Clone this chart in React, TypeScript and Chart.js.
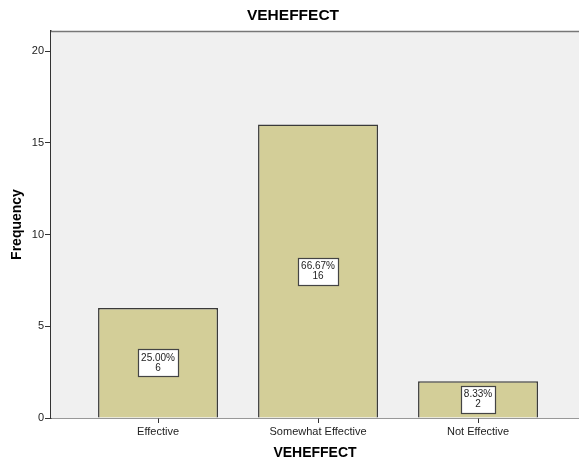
import React, { useEffect, useRef } from "react";
import { Chart, registerables } from "chart.js";

Chart.register(...registerables);

const categories = ["Effective", "Somewhat Effective", "Not Effective"];
const counts = [6, 16, 2];
const percents = ["25.00%", "66.67%", "8.33%"];
const yTicks = [0, 5, 10, 15, 20];

const FONT = "'Liberation Sans', Arial, sans-serif";

export default function App() {
  const ref = useRef<HTMLCanvasElement | null>(null);

  useEffect(() => {
    if (!ref.current) return;

    const decor = {
      id: "decor",
      beforeDatasetsDraw(chart: any) {
        const { ctx, chartArea } = chart;
        ctx.save();
        ctx.fillStyle = "#f0f0f0";
        ctx.fillRect(chartArea.left, chartArea.top, chartArea.right - chartArea.left, chartArea.bottom - chartArea.top);
        ctx.strokeStyle = "#777";
        ctx.lineWidth = 1.5;
        ctx.beginPath();
        ctx.moveTo(chartArea.left, chartArea.top + 0.5);
        ctx.lineTo(chartArea.right, chartArea.top + 0.5);
        ctx.stroke();
        ctx.restore();
      },
      afterDatasetsDraw(chart: any) {
        const { ctx, chartArea } = chart;
        const meta = chart.getDatasetMeta(0);
        const ys = chart.scales.y;
        ctx.save();
        ctx.font = `10px ${FONT}`;
        ctx.textAlign = "center";
        ctx.textBaseline = "middle";
        meta.data.forEach((el: any, i: number) => {
          const cx = el.x;
          const cy = ys.getPixelForValue(counts[i] / 2);
          const tw = Math.max(ctx.measureText(percents[i]).width, ctx.measureText(String(counts[i])).width);
          const w = Math.round(tw + 6);
          const h = 27;
          const x0 = Math.round(cx - w / 2) + 0.5;
          const y0 = Math.round(cy - h / 2) + 0.5;
          ctx.fillStyle = "#ffffff";
          ctx.fillRect(x0, y0, w, h);
          ctx.strokeStyle = "#444";
          ctx.lineWidth = 1.2;
          ctx.strokeRect(x0, y0, w, h);
          ctx.fillStyle = "#222";
          ctx.fillText(percents[i], cx, cy - 5);
          ctx.fillText(String(counts[i]), cx, cy + 5);
        });
        // titles
        ctx.fillStyle = "#000";
        ctx.font = `bold 15.5px ${FONT}`;
        ctx.textAlign = "center";
        ctx.textBaseline = "middle";
        ctx.fillText("VEHEFFECT", 293, 16);
        ctx.font = `bold 14px ${FONT}`;
        ctx.fillText("VEHEFFECT", (chartArea.left + chartArea.right) / 2, 453);
        ctx.save();
        ctx.translate(17, (chartArea.top + chartArea.bottom) / 2);
        ctx.rotate(-Math.PI / 2);
        ctx.fillText("Frequency", 0, 0);
        ctx.restore();
        ctx.restore();
      },
    };

    const chart = new Chart(ref.current, {
      type: "bar",
      data: {
        datasets: [
          {
            data: counts.map((c, i) => ({ x: i, y: c })),
            backgroundColor: "#d3ce98",
            borderColor: "#3a3a3a",
            borderWidth: 1.5,
            barPercentage: 0.75,
            categoryPercentage: 1,
          },
        ],
      },
      options: {
        responsive: false,
        animation: false,
        layout: { padding: { top: 31, left: 0, right: 0, bottom: 0 } },
        plugins: {
          legend: { display: false },
          tooltip: { enabled: false },
          title: { display: false },
        },
        scales: {
          x: {
            type: "linear",
            offset: false,
            min: -0.669,
            max: 2.631,
            afterBuildTicks: (scale: any) => {
              scale.ticks = categories.map((_, i) => ({ value: i }));
            },
            afterFit: (scale: any) => {
              scale.height = 42;
            },
            ticks: {
              callback: (v: any) => categories[v] ?? "",
              font: { family: FONT, size: 11 },
              color: "#222",
              padding: 2,
              maxRotation: 0,
              autoSkip: false,
            },
            grid: { display: true, offset: false, drawOnChartArea: false, drawTicks: true, tickLength: 5, color: "#333", lineWidth: 1 },
            border: { display: true, color: "#333", width: 1.5 },
          },
          y: {
            min: 0,
            max: 21.1,
            afterBuildTicks: (scale: any) => {
              scale.ticks = yTicks.map((v) => ({ value: v }));
            },
            afterFit: (scale: any) => {
              scale.width = 51;
            },
            ticks: {
              font: { family: FONT, size: 11 },
              color: "#222",
              padding: 1,
            },
            grid: { display: true, drawOnChartArea: false, drawTicks: true, tickLength: 6, color: "#333", lineWidth: 1 },
            border: { display: true, color: "#333", width: 1.5 },
          },
        },
      },
      plugins: [decor],
    } as any);

    return () => chart.destroy();
  }, []);

  return (
    <div style={{ position: "absolute", left: 0, top: 0, width: 579, height: 460, background: "#fff" }}>
      <canvas ref={ref} width={579} height={460} style={{ width: 579, height: 460, display: "block" }} />
    </div>
  );
}
